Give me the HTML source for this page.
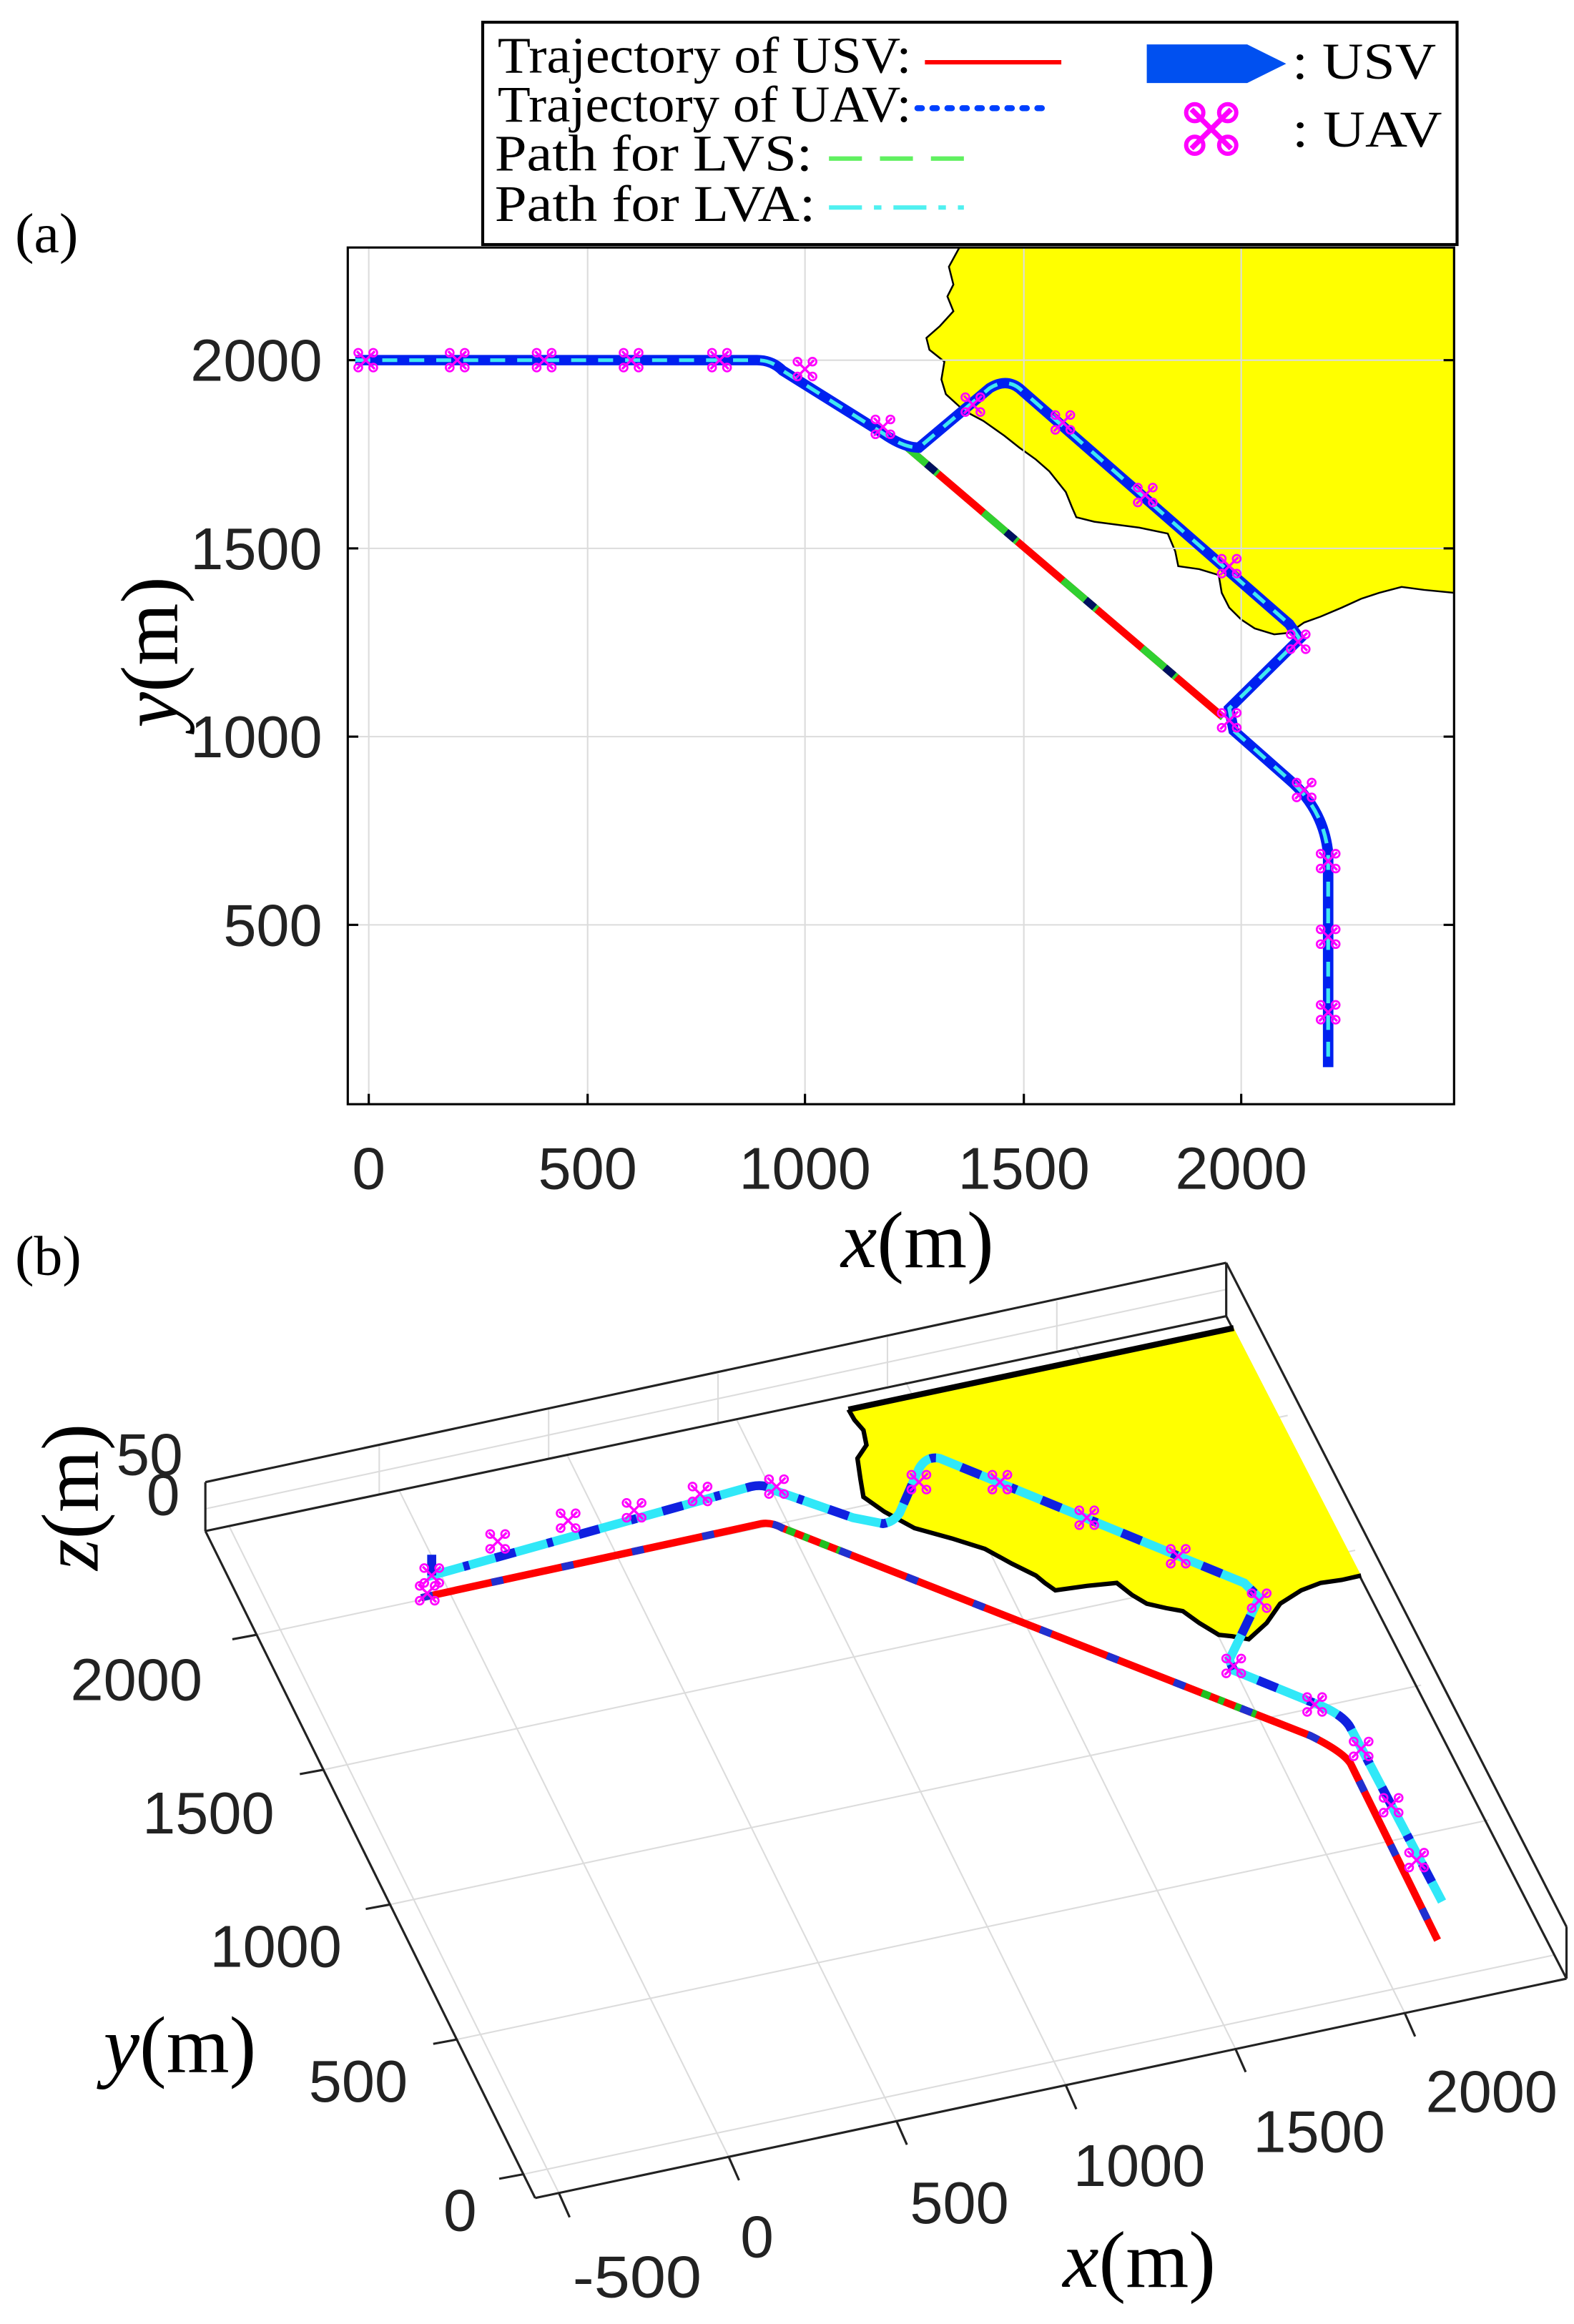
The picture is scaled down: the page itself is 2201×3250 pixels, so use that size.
<!DOCTYPE html>
<html><head><meta charset="utf-8"><style>html,body{margin:0;padding:0;background:#fff}svg{display:block}</style></head>
<body>
<svg width="2201" height="3250" viewBox="0 0 1050 1568" preserveAspectRatio="none" xmlns="http://www.w3.org/2000/svg">
<defs>
<g id="m">
<line x1="-6" y1="-6" x2="6" y2="6" stroke="#f0f" stroke-width="1.6"/>
<line x1="-6" y1="6" x2="6" y2="-6" stroke="#f0f" stroke-width="1.6"/>
<circle cx="-5" cy="-5" r="2.6" fill="none" stroke="#f0f" stroke-width="1.3"/>
<circle cx="5" cy="-5" r="2.6" fill="none" stroke="#f0f" stroke-width="1.3"/>
<circle cx="-5" cy="5" r="2.6" fill="none" stroke="#f0f" stroke-width="1.3"/>
<circle cx="5" cy="5" r="2.6" fill="none" stroke="#f0f" stroke-width="1.3"/>
</g>
</defs>
<rect width="1050" height="1568" fill="#fff"/>

<!-- Legend -->
<rect x="322" y="15" width="650" height="150" fill="#fff" stroke="#000" stroke-width="2"/>
<g font-family="Liberation Serif, serif" font-size="35" fill="#000">
<text x="332" y="49" textLength="276" lengthAdjust="spacingAndGlyphs">Trajectory of USV:</text>
<text x="332" y="82" textLength="276" lengthAdjust="spacingAndGlyphs">Trajectory of UAV:</text>
<text x="330" y="115" textLength="212" lengthAdjust="spacingAndGlyphs">Path for LVS:</text>
<text x="330" y="149" textLength="214" lengthAdjust="spacingAndGlyphs">Path for LVA:</text>
<text x="862" y="53" textLength="96" lengthAdjust="spacingAndGlyphs">: USV</text>
<text x="862" y="99" textLength="100" lengthAdjust="spacingAndGlyphs">: UAV</text>
</g>
<line x1="617" y1="42" x2="708" y2="42" stroke="#f00" stroke-width="3"/>
<line x1="612" y1="73" x2="702" y2="73" stroke="#0040ff" stroke-width="4" stroke-dasharray="3 7" stroke-linecap="round"/>
<line x1="553" y1="107" x2="645" y2="107" stroke="#60f060" stroke-width="3" stroke-dasharray="22 12"/>
<line x1="553" y1="140" x2="643" y2="140" stroke="#50f0f0" stroke-width="3" stroke-dasharray="22 8 5 8"/>
<path d="M765 30 H832 L858 43 L832 56 H765 Z" fill="#0050f0"/>
<g transform="translate(808,87) scale(2.2)"><use href="#m"/></g>

<text x="10" y="170" font-family="Liberation Serif, serif" font-size="38">(a)</text>

<!-- Axes (a) -->
<rect x="232" y="167" width="738" height="578" fill="#fff"/>
<polygon fill="#ffff00" stroke="#000" stroke-width="1.2" points="640,167 633,180 636,192 632,200 636,210 627,220 618,228 620,236 630,244 628,256 631,266 643,277 656,284 670,294 680,302 691,310 700,318 711,332 715,342 718,349 730,352 745,354 760,356 779,360 784,372 786,382 800,384 813,388 815,400 820,410 828,418 837,424 850,428 860,427 870,420 881,416 895,410 908,404 920,400 935,396 950,398 970,400 970,167"/>
<g stroke="#dcdcdc" stroke-width="1">
<line x1="246" y1="167" x2="246" y2="745"/><line x1="392" y1="167" x2="392" y2="745"/><line x1="537" y1="167" x2="537" y2="745"/><line x1="683" y1="167" x2="683" y2="745"/><line x1="828" y1="167" x2="828" y2="745"/>
<line x1="232" y1="243" x2="970" y2="243"/><line x1="232" y1="370" x2="970" y2="370"/><line x1="232" y1="497" x2="970" y2="497"/><line x1="232" y1="624" x2="970" y2="624"/>
</g>
<rect x="232" y="167" width="738" height="578" fill="none" stroke="#000" stroke-width="1.5"/>
<g stroke="#000" stroke-width="1.5">
<line x1="246" y1="745" x2="246" y2="738"/><line x1="392" y1="745" x2="392" y2="738"/><line x1="537" y1="745" x2="537" y2="738"/><line x1="683" y1="745" x2="683" y2="738"/><line x1="828" y1="745" x2="828" y2="738"/>
<line x1="232" y1="243" x2="239" y2="243"/><line x1="232" y1="370" x2="239" y2="370"/><line x1="232" y1="497" x2="239" y2="497"/><line x1="232" y1="624" x2="239" y2="624"/>
<line x1="970" y1="243" x2="963" y2="243"/><line x1="970" y1="370" x2="963" y2="370"/><line x1="970" y1="497" x2="963" y2="497"/><line x1="970" y1="624" x2="963" y2="624"/>
</g>
<path d="M603 300 L816 484" stroke="#f00" stroke-width="5" fill="none"/>
<path d="M603 300 L816 484" stroke="#30d030" stroke-width="5" fill="none" stroke-dasharray="30 40"/>
<path d="M603 300 L816 484" stroke="#001060" stroke-width="5" fill="none" stroke-dasharray="8 62" stroke-dashoffset="-20"/>
<path d="M237 243 L505 243 Q515 243 522 250 L590 293 Q603 302 613 302 L660 262 Q671 255 680 262 L860 421 L867 431 L820 478 L823 493 L860 526 Q883 546 886 576 L886 720" stroke="#0020f0" stroke-width="7" fill="none"/>
<path d="M237 243 L505 243 Q515 243 522 250 L590 293 Q603 302 613 302 L660 262 Q671 255 680 262 L860 421 L867 431 L820 478 L823 493 L860 526 Q883 546 886 576 L886 720" stroke="#40e8f0" stroke-width="2.5" fill="none" stroke-dasharray="10 8"/>
<g>
<use href="#m" x="244" y="243"/><use href="#m" x="305" y="243"/><use href="#m" x="363" y="243"/><use href="#m" x="421" y="243"/><use href="#m" x="480" y="243"/>
<use href="#m" x="537" y="249"/><use href="#m" x="589" y="288"/><use href="#m" x="649" y="273"/><use href="#m" x="709" y="285"/><use href="#m" x="764" y="334"/><use href="#m" x="820" y="382"/><use href="#m" x="866" y="433"/><use href="#m" x="820" y="486"/><use href="#m" x="870" y="533"/><use href="#m" x="886" y="581"/><use href="#m" x="886" y="632"/><use href="#m" x="886" y="683"/>
</g>
<g font-family="Liberation Sans, sans-serif" font-size="40" fill="#222">
<text x="215" y="257" text-anchor="end" textLength="88" lengthAdjust="spacingAndGlyphs">2000</text>
<text x="215" y="384" text-anchor="end" textLength="88" lengthAdjust="spacingAndGlyphs">1500</text>
<text x="215" y="511" text-anchor="end" textLength="88" lengthAdjust="spacingAndGlyphs">1000</text>
<text x="215" y="638" text-anchor="end" textLength="66" lengthAdjust="spacingAndGlyphs">500</text>
<text x="246" y="802" text-anchor="middle">0</text>
<text x="392" y="802" text-anchor="middle" textLength="66" lengthAdjust="spacingAndGlyphs">500</text>
<text x="537" y="802" text-anchor="middle" textLength="88" lengthAdjust="spacingAndGlyphs">1000</text>
<text x="683" y="802" text-anchor="middle" textLength="88" lengthAdjust="spacingAndGlyphs">1500</text>
<text x="828" y="802" text-anchor="middle" textLength="88" lengthAdjust="spacingAndGlyphs">2000</text>
</g>
<text x="612" y="855" text-anchor="middle" font-family="Liberation Serif, serif" font-size="54"><tspan font-style="italic">x</tspan>(m)</text>
<text transform="translate(118,440) rotate(-90)" text-anchor="middle" font-family="Liberation Serif, serif" font-size="54"><tspan font-style="italic">y</tspan>(m)</text>

<!-- Panel (b) -->
<text x="10" y="860" font-family="Liberation Serif, serif" font-size="38">(b)</text>
<g stroke="#dcdcdc" stroke-width="1">
<line x1="373" y1="1480" x2="153" y2="1030"/>
<line x1="486" y1="1455" x2="266" y2="1005"/>
<line x1="598" y1="1431" x2="378" y2="981"/>
<line x1="711" y1="1407" x2="491" y2="957"/>
<line x1="824" y1="1382" x2="604" y2="932"/>
<line x1="937" y1="1358" x2="717" y2="908"/>
<line x1="349" y1="1467" x2="1037" y2="1319"/>
<line x1="305" y1="1376" x2="993" y2="1228"/>
<line x1="260" y1="1285" x2="948" y2="1137"/>
<line x1="216" y1="1194" x2="904" y2="1046"/>
<line x1="171" y1="1103" x2="859" y2="955"/>
<line x1="253" y1="1008" x2="253" y2="975"/><line x1="366" y1="984" x2="366" y2="951"/><line x1="479" y1="960" x2="479" y2="927"/><line x1="592" y1="935" x2="592" y2="902"/><line x1="705" y1="911" x2="705" y2="878"/>
<line x1="137" y1="1018" x2="818" y2="870"/>
</g>
<g stroke="#222" stroke-width="1.5" fill="none">
<line x1="137" y1="1000" x2="818" y2="852"/>
<line x1="137" y1="1033" x2="818" y2="888"/>
<line x1="137" y1="1000" x2="137" y2="1033"/>
<line x1="818" y1="852" x2="818" y2="888"/>
<line x1="818" y1="852" x2="1045" y2="1300"/>
<line x1="818" y1="888" x2="1045" y2="1335"/>
<line x1="1045" y1="1300" x2="1045" y2="1335"/>
<line x1="137" y1="1033" x2="357" y2="1483"/>
<line x1="357" y1="1483" x2="1045" y2="1335"/>
<line x1="373" y1="1480" x2="380" y2="1496"/><line x1="486" y1="1455" x2="493" y2="1471"/><line x1="598" y1="1431" x2="605" y2="1447"/><line x1="711" y1="1407" x2="718" y2="1423"/><line x1="824" y1="1382" x2="831" y2="1398"/><line x1="937" y1="1358" x2="944" y2="1374"/>
<line x1="349" y1="1467" x2="333" y2="1470"/><line x1="305" y1="1376" x2="289" y2="1379"/><line x1="260" y1="1285" x2="244" y2="1288"/><line x1="216" y1="1194" x2="200" y2="1197"/><line x1="171" y1="1103" x2="155" y2="1106"/>
</g>
<polygon fill="#ffff00" points="566,951 823,896 908,1063 895,1066 881,1068 868,1073 854,1082 845,1095 833,1106 822,1104 813,1103 800,1095 789,1087 778,1085 765,1082 755,1076 745,1068 725,1070 704,1073 697,1068 691,1063 675,1055 657,1045 635,1038 610,1031 590,1020 576,1010 574,998 572,984 578,975 576,965 570,958"/>
<polyline fill="none" stroke="#000" stroke-width="3" points="908,1063 895,1066 881,1068 868,1073 854,1082 845,1095 833,1106 822,1104 813,1103 800,1095 789,1087 778,1085 765,1082 755,1076 745,1068 725,1070 704,1073 697,1068 691,1063 675,1055 657,1045 635,1038 610,1031 590,1020 576,1010 574,998 572,984 578,975 576,965 570,958 566,951"/>
<line x1="566" y1="951" x2="823" y2="896" stroke="#000" stroke-width="4"/>
<path d="M281 1078 L508 1028 Q515 1027 522 1031 L874 1171 Q896 1182 901 1190 L959 1309" stroke="#f00" stroke-width="5" fill="none"/>
<path d="M281 1078 L508 1028 Q515 1027 522 1031 L874 1171 Q896 1182 901 1190 L959 1309" stroke="#20c020" stroke-width="5" fill="none" stroke-dasharray="0 250 6 6 4 8 6 6 3 9"/>
<path d="M281 1078 L508 1028 Q515 1027 522 1031 L874 1171 Q896 1182 901 1190 L959 1309" stroke="#2030d0" stroke-width="5" fill="none" stroke-dasharray="8 40"/>
<path d="M288 1049 L288 1063 L501 1003 Q510 1001 515 1005 L569 1024 L589 1028 Q596 1027 600 1021 L613 991 Q618 982 627 984 L830 1068 L840 1078 L820 1120 L823 1127 L874 1148 Q896 1156 901 1166 L911 1185 L962 1283" stroke="#30e8f8" stroke-width="6" fill="none"/>
<path d="M288 1049 L288 1063 L501 1003 Q510 1001 515 1005 L569 1024 L589 1028 Q596 1027 600 1021 L613 991 Q618 982 627 984 L830 1068 L840 1078 L820 1120 L823 1127 L874 1148 Q896 1156 901 1166 L911 1185 L962 1283" stroke="#1020e0" stroke-width="6" fill="none" stroke-dasharray="14 22 4 18"/>
<g>
<use href="#m" x="288" y="1063"/><use href="#m" x="285" y="1075"/><use href="#m" x="332" y="1040"/><use href="#m" x="379" y="1026"/><use href="#m" x="423" y="1019"/><use href="#m" x="467" y="1008"/><use href="#m" x="518" y="1003"/><use href="#m" x="613" y="1000"/><use href="#m" x="667" y="1000"/><use href="#m" x="725" y="1024"/><use href="#m" x="786" y="1050"/><use href="#m" x="840" y="1080"/><use href="#m" x="823" y="1124"/><use href="#m" x="877" y="1150"/><use href="#m" x="908" y="1180"/><use href="#m" x="928" y="1218"/><use href="#m" x="945" y="1255"/>
</g>
<g font-family="Liberation Sans, sans-serif" font-size="40" fill="#222">
<text x="135" y="1147" text-anchor="end" textLength="88" lengthAdjust="spacingAndGlyphs">2000</text>
<text x="183" y="1237" text-anchor="end" textLength="88" lengthAdjust="spacingAndGlyphs">1500</text>
<text x="228" y="1327" text-anchor="end" textLength="88" lengthAdjust="spacingAndGlyphs">1000</text>
<text x="272" y="1418" text-anchor="end" textLength="66" lengthAdjust="spacingAndGlyphs">500</text>
<text x="318" y="1505" text-anchor="end">0</text>
<text x="425" y="1550" text-anchor="middle" textLength="86" lengthAdjust="spacingAndGlyphs">-500</text>
<text x="505" y="1523" text-anchor="middle">0</text>
<text x="640" y="1500" text-anchor="middle" textLength="66" lengthAdjust="spacingAndGlyphs">500</text>
<text x="760" y="1475" text-anchor="middle" textLength="88" lengthAdjust="spacingAndGlyphs">1000</text>
<text x="880" y="1452" text-anchor="middle" textLength="88" lengthAdjust="spacingAndGlyphs">1500</text>
<text x="995" y="1425" text-anchor="middle" textLength="88" lengthAdjust="spacingAndGlyphs">2000</text>
<text x="122" y="995" text-anchor="end">50</text>
<text x="120" y="1022" text-anchor="end">0</text>
</g>
<text x="760" y="1543" text-anchor="middle" font-family="Liberation Serif, serif" font-size="54"><tspan font-style="italic">x</tspan>(m)</text>
<text x="120" y="1398" text-anchor="middle" font-family="Liberation Serif, serif" font-size="54"><tspan font-style="italic">y</tspan>(m)</text>
<text transform="translate(65,1010) rotate(-90)" text-anchor="middle" font-family="Liberation Serif, serif" font-size="54"><tspan font-style="italic">z</tspan>(m)</text>
</svg>
</body></html>
